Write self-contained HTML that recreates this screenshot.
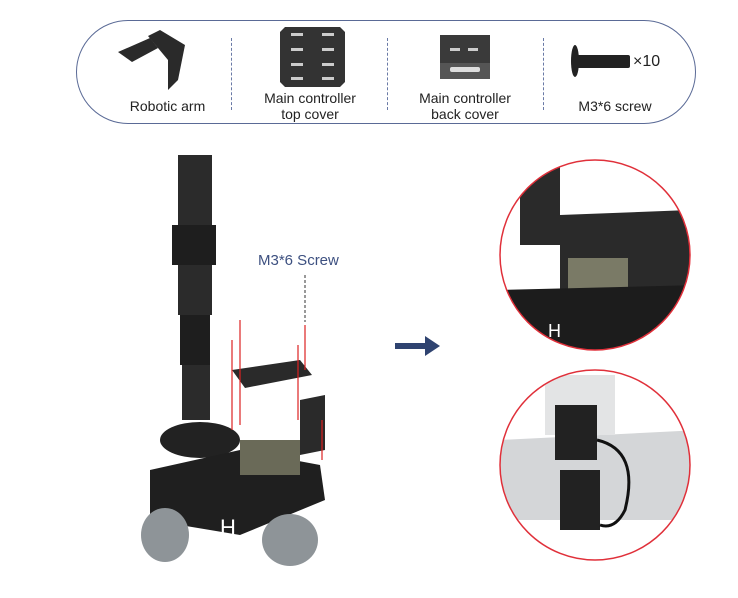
<!DOCTYPE html>
<html><head><meta charset="utf-8"><style>
body{margin:0;background:#fff;width:738px;height:598px;overflow:hidden;font-family:"Liberation Sans",sans-serif;}
.abs{position:absolute}
.t{position:absolute;font-size:14px;color:#222;text-align:center;line-height:16px}
</style></head><body>
<div class="abs" style="left:76px;top:20px;width:620px;height:104px;border:1px solid #5a6a96;border-radius:52px;box-sizing:border-box"></div>
<div class="abs" style="left:231px;top:38px;height:72px;border-left:1px dashed #6a7aa6"></div>
<div class="abs" style="left:387px;top:38px;height:72px;border-left:1px dashed #6a7aa6"></div>
<div class="abs" style="left:543px;top:38px;height:72px;border-left:1px dashed #6a7aa6"></div>
<svg class="abs" style="left:0;top:0" width="738" height="598">
 <g fill="#2a2a2a">
  <path d="M118 52 L150 38 L158 48 L132 62 Z"/><path d="M148 36 L160 30 L185 45 L182 60 L168 60 Z"/>
  <path d="M168 60 L182 60 L178 80 L168 90 Z"/></g>
 <g>
  <path d="M285 27 L340 27 L345 32 L345 82 L340 87 L285 87 L280 82 L280 32 Z" fill="#333"/>
  <g fill="#ccc"><rect x="291" y="33" width="12" height="3"/><rect x="322" y="33" width="12" height="3"/><rect x="291" y="48" width="12" height="3"/><rect x="322" y="48" width="12" height="3"/><rect x="291" y="63" width="12" height="3"/><rect x="322" y="63" width="12" height="3"/><rect x="291" y="77" width="12" height="3"/><rect x="322" y="77" width="12" height="3"/></g></g>
 <g>
  <rect x="440" y="35" width="50" height="28" fill="#3a3a3a"/><rect x="440" y="63" width="50" height="16" fill="#555"/>
  <rect x="450" y="67" width="30" height="5" rx="2" fill="#ddd"/><rect x="450" y="48" width="10" height="3" fill="#ccc"/><rect x="468" y="48" width="10" height="3" fill="#ccc"/></g>
 <g fill="#222">
  <ellipse cx="575" cy="61" rx="4" ry="16"/><rect x="577" y="55" width="53" height="13" rx="2"/></g>
 <g>
  <rect x="178" y="155" width="34" height="70" fill="#2b2b2b"/>
  <rect x="172" y="225" width="44" height="40" fill="#1e1e1e"/>
  <rect x="178" y="265" width="34" height="50" fill="#2b2b2b"/>
  <rect x="180" y="315" width="30" height="50" fill="#1e1e1e"/>
  <rect x="182" y="365" width="28" height="55" fill="#2b2b2b"/>
  <ellipse cx="200" cy="440" rx="40" ry="18" fill="#222"/>
  <path d="M150 470 L240 450 L320 465 L325 500 L240 535 L150 520 Z" fill="#1f1f1f"/>
  <rect x="240" y="440" width="60" height="35" fill="#6a6a58"/>
  <path d="M232 370 L300 360 L312 375 L245 388 Z" fill="#2a2a2a"/>
  <path d="M300 400 L325 395 L325 450 L300 455 Z" fill="#2a2a2a"/>
  <ellipse cx="165" cy="535" rx="24" ry="27" fill="#8e9498"/>
  <ellipse cx="290" cy="540" rx="28" ry="26" fill="#8e9498"/>
  <text x="220" y="535" fill="#fff" font-size="22" font-family="Liberation Sans">H</text>
  <g stroke="#d22" stroke-width="1.2"><line x1="232" y1="340" x2="232" y2="430"/><line x1="240" y1="320" x2="240" y2="425"/><line x1="298" y1="345" x2="298" y2="420"/><line x1="305" y1="325" x2="305" y2="370"/><line x1="322" y1="420" x2="322" y2="460"/></g>
  <line x1="305" y1="275" x2="305" y2="322" stroke="#333" stroke-dasharray="3,2"/>
 </g>
 <text x="258" y="265" fill="#3d5080" font-size="15" font-family="Liberation Sans">M3*6 Screw</text>
 <path d="M395 343 L425 343 L425 336 L440 346 L425 356 L425 349 L395 349 Z" fill="#2f4370"/>
 <g>
  <clipPath id="c1"><circle cx="595" cy="255" r="95"/></clipPath>
  <g clip-path="url(#c1)"><rect x="500" y="160" width="190" height="190" fill="#fff"/>
   <rect x="520" y="165" width="40" height="80" fill="#2a2a2a"/><path d="M560 215 L690 210 L690 290 L560 290 Z" fill="#2a2a2a"/>
   <rect x="568" y="258" width="60" height="45" fill="#7a7a66"/><path d="M500 290 L700 285 L700 350 L500 350 Z" fill="#1c1c1c"/>
   <text x="548" y="337" fill="#fff" font-size="18">H</text></g>
  <circle cx="595" cy="255" r="95" fill="none" stroke="#e0303a" stroke-width="1.5"/></g>
 <g>
  <clipPath id="c2"><circle cx="595" cy="465" r="95"/></clipPath>
  <g clip-path="url(#c2)"><rect x="500" y="370" width="190" height="190" fill="#fff"/>
   <path d="M500 440 L700 430 L700 520 L500 520 Z" fill="#d4d6d8"/><rect x="545" y="375" width="70" height="60" fill="#e3e4e5"/>
   <rect x="555" y="405" width="42" height="55" fill="#222"/><rect x="560" y="470" width="40" height="60" fill="#222"/>
   <path d="M597 440 Q640 450 625 510 Q615 530 600 525" stroke="#111" stroke-width="3" fill="none"/></g>
  <circle cx="595" cy="465" r="95" fill="none" stroke="#e0303a" stroke-width="1.5"/></g>
</svg>
<div class="t" style="left:110px;top:98px;width:115px">Robotic arm</div>
<div class="t" style="left:245px;top:90px;width:130px">Main controller<br>top cover</div>
<div class="t" style="left:400px;top:90px;width:130px">Main controller<br>back cover</div>
<div class="t" style="left:555px;top:98px;width:120px">M3*6 screw</div>
<div class="t" style="left:633px;top:54px;font-size:16px">×10</div>
</body></html>
